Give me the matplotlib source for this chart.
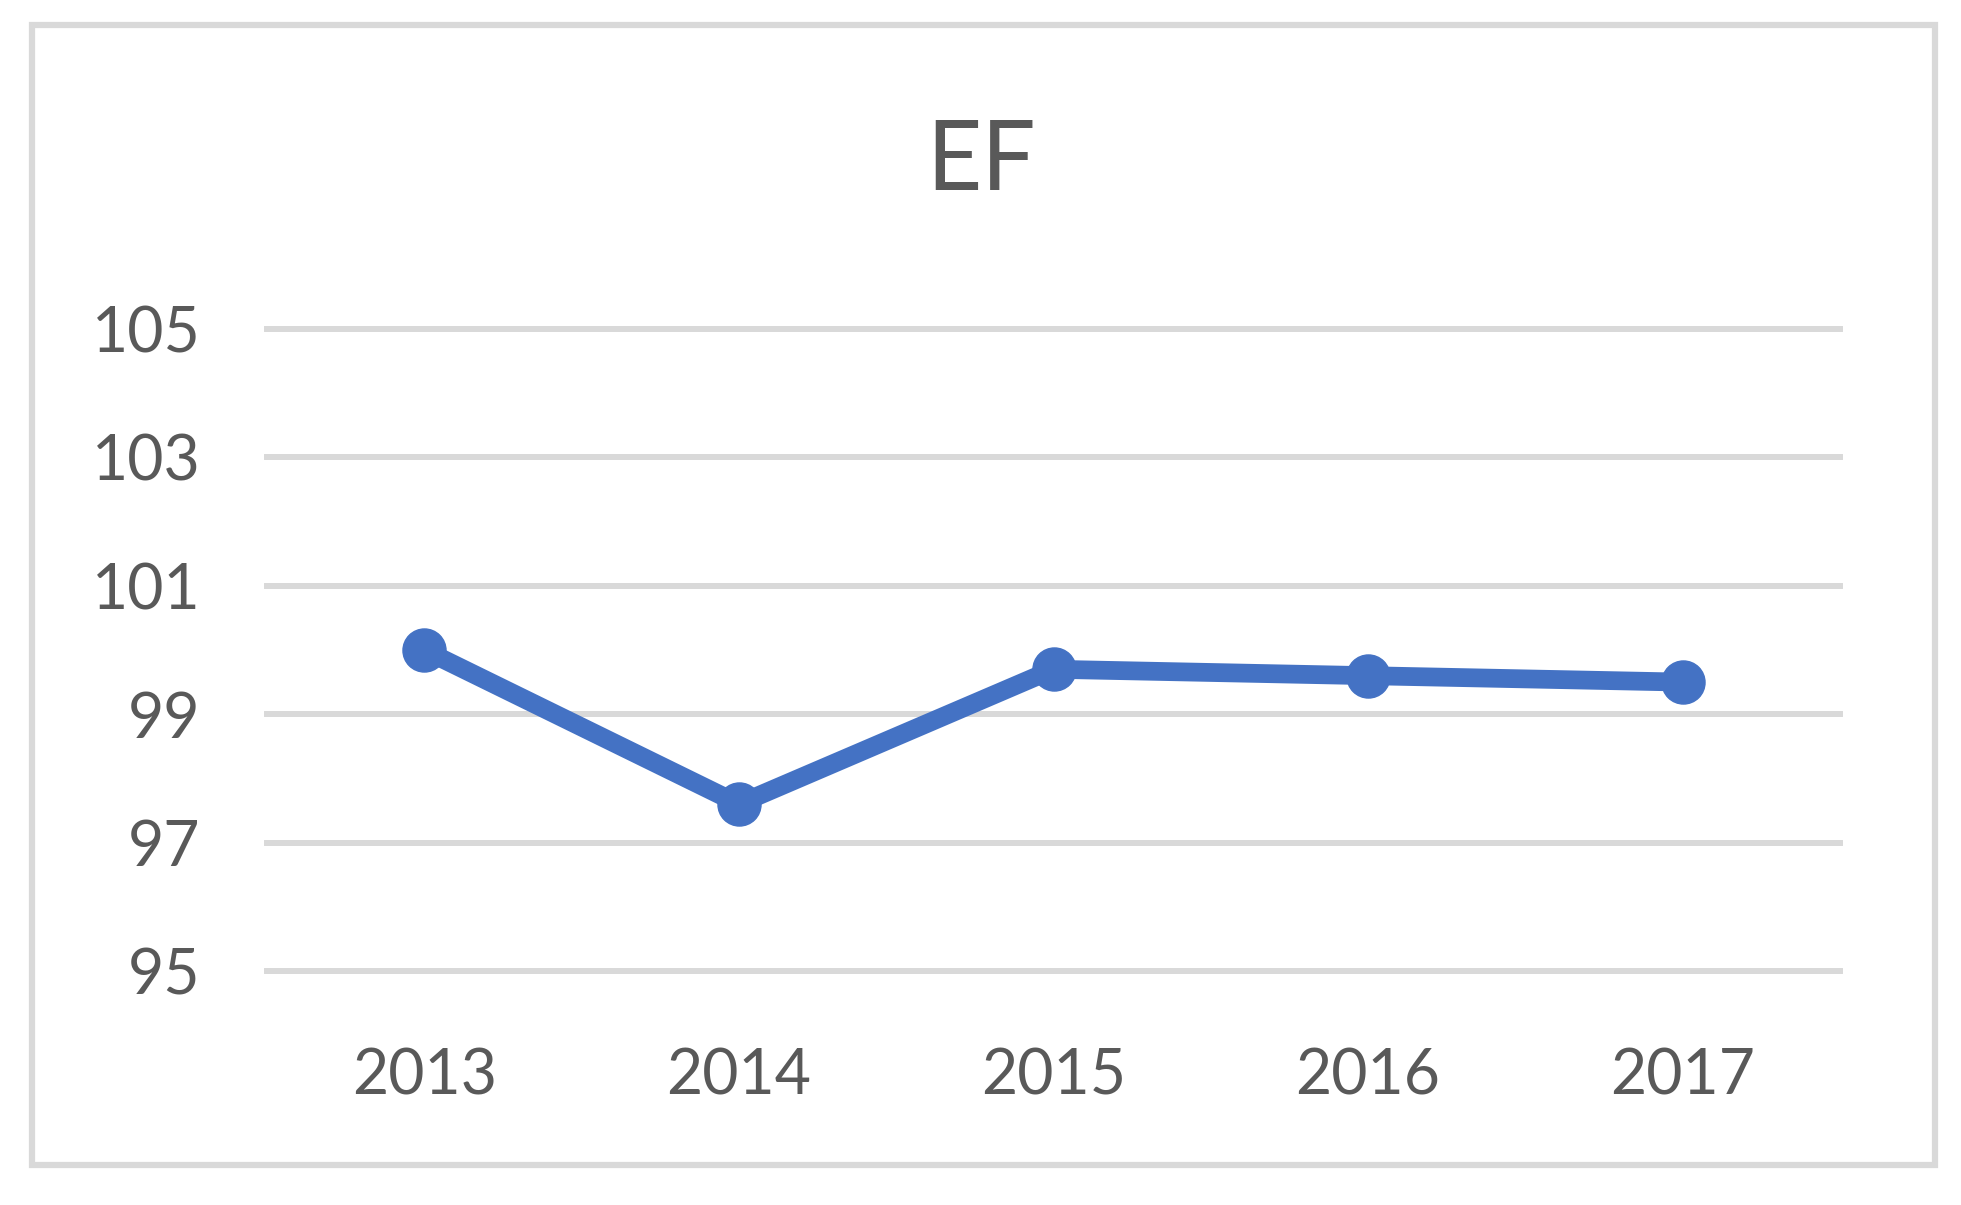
import matplotlib
matplotlib.use("Agg")
import matplotlib.pyplot as plt
from matplotlib.patches import Rectangle

years = ["2013", "2014", "2015", "2016", "2017"]
ef_values = [100.0, 97.6, 99.7, 99.6, 99.5]
y_ticks = [95, 97, 99, 101, 103, 105]

plt.rcParams['font.family'] = ['Lato', 'DejaVu Sans']
TEXT = "#595959"
GRID = "#D9D9D9"
LINE = "#4472C4"

fig = plt.figure(figsize=(19.61, 12.05), dpi=100)
fig.patch.set_facecolor("white")

# chart border
fig.patches.append(Rectangle((32/1961, 1-1165/1205), (1935-32)/1961, (1165-25)/1205,
                             transform=fig.transFigure, fill=False,
                             edgecolor=GRID, linewidth=4.5))

ax = fig.add_axes([267/1961, 1-971/1205, (1840-267)/1961, (971-329)/1205])
x = list(range(len(years)))
for t in y_ticks:
    ax.axhline(t, color=GRID, linewidth=4.3, zorder=1, clip_on=False)
ax.plot(x, ef_values, color=LINE, linewidth=13.5, marker='o', markersize=31,
        solid_joinstyle='miter', zorder=3, clip_on=False)

ax.set_xlim(-0.5, len(years)-0.5)
ax.set_ylim(95, 105)
ax.set_xticks(x)
ax.set_xticklabels(years)
ax.set_yticks(y_ticks)
ax.set_yticklabels([str(t) for t in y_ticks])
ax.tick_params(axis='both', length=0, labelsize=45, colors=TEXT)
ax.tick_params(axis='y', pad=48)
ax.tick_params(axis='x', pad=55)
for s in ax.spines.values():
    s.set_visible(False)
ax.set_facecolor("none")

fig.text(981/1961, 1-163/1205, "EF", ha='center', va='center', fontsize=69, color=TEXT)

fig.savefig("out.png", dpi=100, facecolor="white")
